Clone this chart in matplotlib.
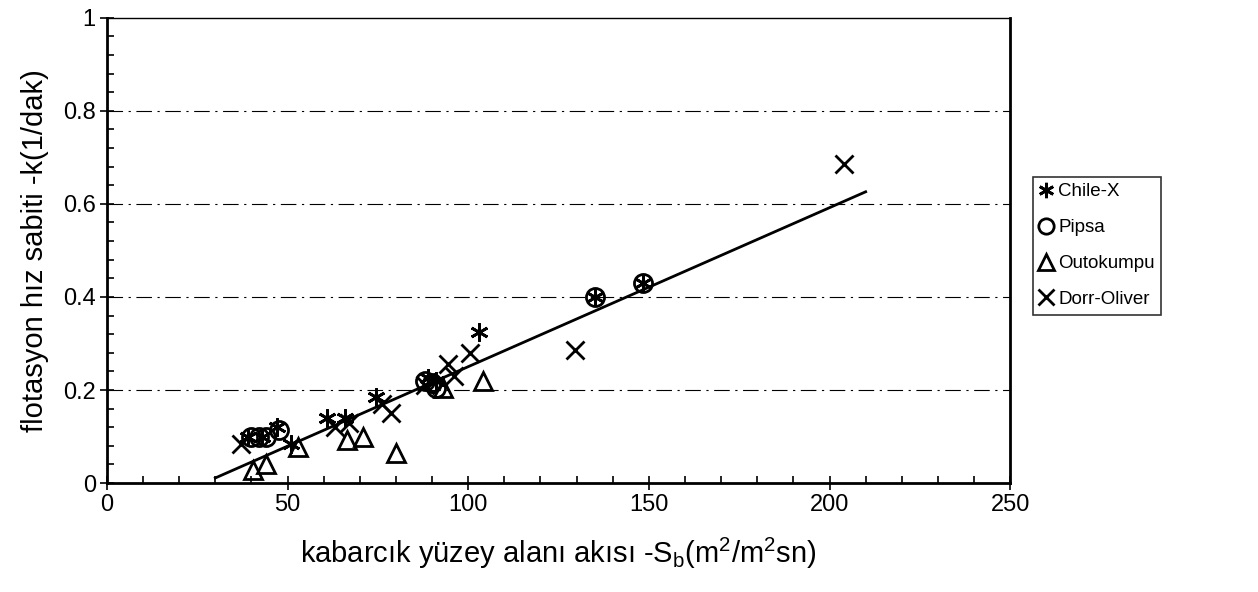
import numpy as np
import matplotlib.pyplot as plt
from matplotlib.ticker import MultipleLocator, FixedLocator

plt.rcParams["font.family"] = ["Liberation Sans", "DejaVu Sans"]

# ---- data ----
chile_x = [39, 43, 47, 51, 61, 66, 74.5, 89, 91, 103, 135, 148.5]
chile_y = [0.10, 0.10, 0.12, 0.085, 0.14, 0.14, 0.185, 0.225, 0.22, 0.325, 0.40, 0.43]

pipsa_x = [40, 42, 44, 47.5, 88, 90, 91, 135, 148.5]
pipsa_y = [0.10, 0.10, 0.10, 0.115, 0.22, 0.215, 0.205, 0.40, 0.43]

outo_x = [40.5, 44, 53, 66.5, 71, 80, 93, 104]
outo_y = [0.028, 0.04, 0.078, 0.092, 0.099, 0.065, 0.205, 0.22]

dorr_x = [37, 63, 67, 76, 78.5, 88, 94.5, 96, 100.5, 129.5, 204]
dorr_y = [0.085, 0.12, 0.13, 0.17, 0.15, 0.21, 0.255, 0.23, 0.28, 0.285, 0.685]

trend_x = [30, 210]
trend_y = [0.011, 0.626]

fig = plt.figure(figsize=(12.58, 5.92), dpi=100)
ax = fig.add_axes([0.085, 0.184, 0.718, 0.786])

ax.plot(trend_x, trend_y, color="black", lw=2, zorder=2)

mk = dict(linestyle="none", color="black", markersize=13, mew=2, zorder=3)
ax.plot(chile_x, chile_y, marker=(6, 2, 0), label="Chile-X", **mk)
ax.plot(pipsa_x, pipsa_y, marker="o", fillstyle="none", label="Pipsa", **mk)
ax.plot(outo_x, outo_y, marker="^", fillstyle="none", label="Outokumpu", **mk)
ax.plot(dorr_x, dorr_y, marker="x", label="Dorr-Oliver", **mk)

ax.set_xlim(0, 250)
ax.set_ylim(0, 1)
ax.xaxis.set_major_locator(MultipleLocator(50))
ax.xaxis.set_minor_locator(MultipleLocator(10))
ax.yaxis.set_major_locator(FixedLocator([0, 0.2, 0.4, 0.6, 0.8, 1.0]))
ax.set_yticklabels(["0", "0.2", "0.4", "0.6", "0.8", "1"])
ax.yaxis.set_minor_locator(MultipleLocator(0.04))
ax.tick_params(which="major", direction="inout", length=10, width=1.2,
               labelsize=17, pad=3, colors="black")
ax.tick_params(which="minor", direction="in", length=5, width=1.2)

for y in [0.2, 0.4, 0.6, 0.8]:
    ax.axhline(y, color="black", lw=0.8, linestyle=(0, (14, 5, 2, 5)), zorder=1)

for s in ax.spines.values():
    s.set_linewidth(2)
ax.spines["top"].set_linewidth(1)

ax.set_xlabel(r"kabarcık yüzey alanı akısı -S$_\mathregular{b}$(m$^\mathregular{2}$/m$^\mathregular{2}$sn)",
              fontsize=21, labelpad=14)
ax.set_ylabel("flotasyon hız sabiti -k(1/dak)", fontsize=21, labelpad=10)

leg = fig.legend(loc="center left", bbox_to_anchor=(0.821, 0.585),
                 fontsize=13.5, frameon=True, fancybox=False, handlelength=0.7,
                 handletextpad=0.3, borderpad=0.35, labelspacing=1.0,
                 borderaxespad=0, markerscale=0.85)
leg.get_frame().set_edgecolor("black")
leg.get_frame().set_linewidth(1.2)

fig.savefig("out.png", dpi=100, facecolor="white")
